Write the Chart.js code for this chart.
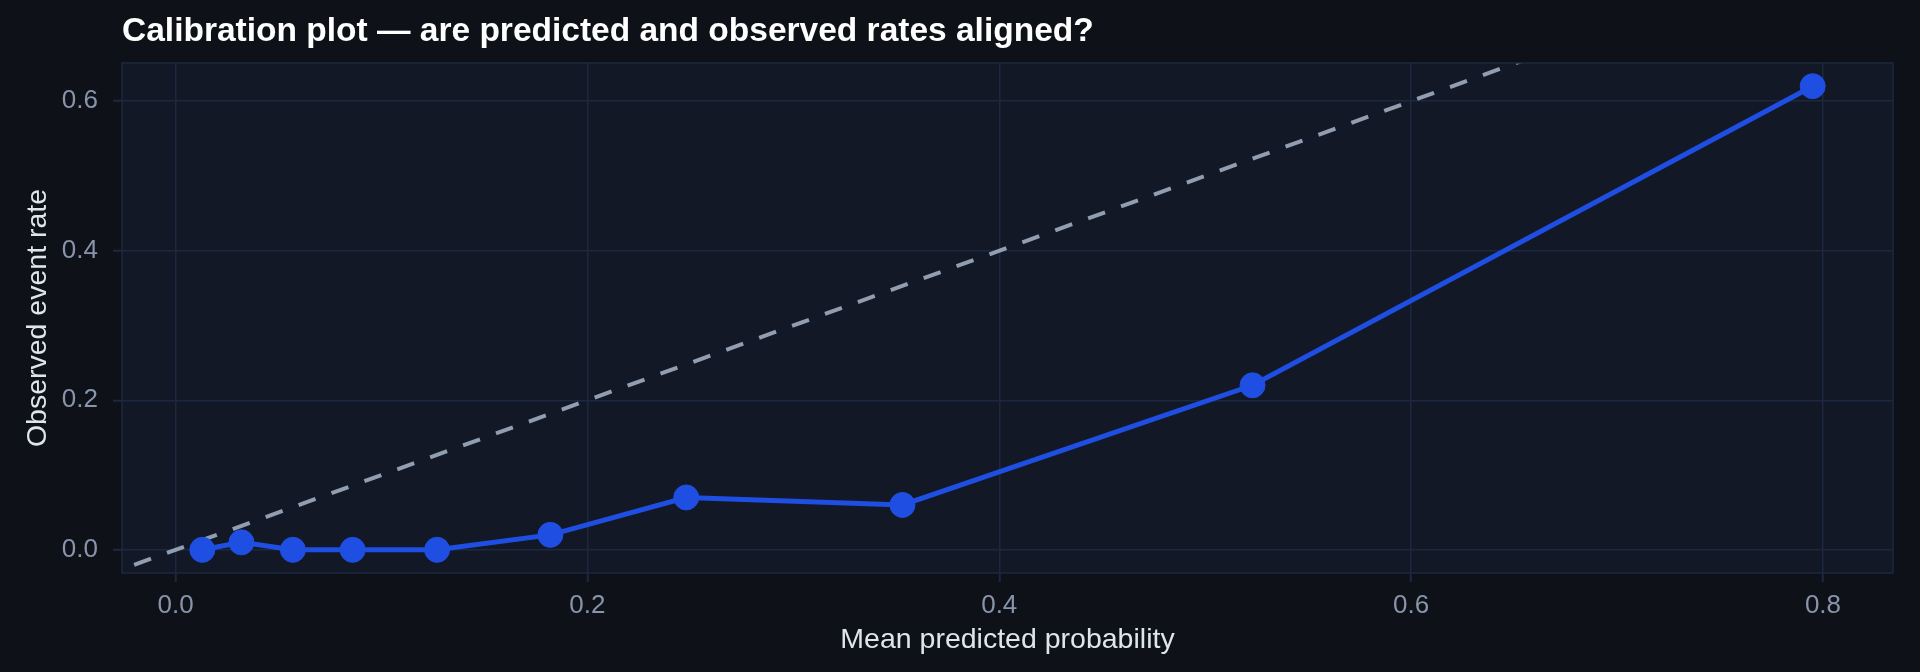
<!DOCTYPE html>
<html>
<head>
<meta charset="utf-8">
<script src="https://cdn.jsdelivr.net/npm/chart.js@4.4.1/dist/chart.umd.min.js"></script>
<style>
  html, body { margin: 0; padding: 0; background: #0e1118; }
  #wrap { width: 1920px; height: 672px; position: relative; }
</style>
</head>
<body>
<div id="wrap"><canvas id="calibrationChart"></canvas></div>
<script>
// Calibration bins
const predicted = [0.013, 0.032, 0.057, 0.086, 0.127, 0.182, 0.248, 0.353, 0.523, 0.795];
const observed = [0.00, 0.01, 0.00, 0.00, 0.00, 0.02, 0.07, 0.06, 0.22, 0.62];

// perfect calibration reference (y = x)
const diagonal = [-0.1, 1.0];

const xTicks = [0.0, 0.2, 0.4, 0.6, 0.8];
const yTicks = [0.0, 0.2, 0.4, 0.6];

const titleText = 'Calibration plot \u2014 are predicted and observed rates aligned?';
const FONT = '"Liberation Sans", Arial, Helvetica, sans-serif';
const gridColor = '#1c2840';

// plot background, frame and title
const framePlugin = {
    id: 'frame',
    beforeDraw(chart) {
        const { ctx, chartArea: a } = chart;
        ctx.save();
        ctx.fillStyle = '#121826';
        ctx.fillRect(a.left, a.top, a.right - a.left, a.bottom - a.top);
        ctx.restore();
    },
    afterDraw(chart) {
        const { ctx, chartArea: a } = chart;
        ctx.save();
        ctx.strokeStyle = gridColor;
        ctx.lineWidth = 1.5;
        ctx.strokeRect(a.left, a.top, a.right - a.left, a.bottom - a.top);
        ctx.fillStyle = '#ffffff';
        ctx.font = 'bold 33.5px ' + FONT;
        ctx.textBaseline = 'alphabetic';
        ctx.textAlign = 'left';
        ctx.fillText(titleText, a.left, 41);
        ctx.restore();
    }
};

const ctx = document.getElementById('calibrationChart').getContext('2d');

const calibrationChart = new Chart(ctx, {
    type: 'scatter',
    data: {
        datasets: [{
            label: 'Model',
            data: predicted.map((x, i) => ({ x: x, y: observed[i] })),
            showLine: true,
            borderColor: '#1f4ee3',
            backgroundColor: '#1f4ee3',
            borderWidth: 5,
            pointRadius: 12.5,
            pointBorderWidth: 1,
            pointBorderColor: '#1f4ee3',
            pointBackgroundColor: '#1f4ee3',
            tension: 0
        }, {
            label: 'Perfect calibration',
            data: diagonal.map(v => ({ x: v, y: v })),
            showLine: true,
            borderColor: 'rgba(160, 172, 192, 0.9)',
            borderWidth: 4,
            borderDash: [18, 17],
            pointRadius: 0,
            clip: 0
        }]
    },
    options: {
        responsive: true,
        maintainAspectRatio: false,
        animation: false,
        layout: { padding: { top: 63, right: 27, left: 0, bottom: 0 } },
        plugins: {
            legend: { display: false },
            title: { display: false },
            tooltip: { enabled: false }
        },
        scales: {
            x: {
                type: 'linear',
                min: -0.026,
                max: 0.834,
                afterBuildTicks: (scale) => { scale.ticks = xTicks.map(v => ({ value: v })); },
                afterFit: (scale) => { scale.height = 99; },
                grid: { color: gridColor, lineWidth: 1.5, tickLength: 9, tickColor: gridColor, tickWidth: 2 },
                border: { display: false },
                ticks: {
                    color: '#8794ab',
                    font: { family: FONT, size: 26 },
                    padding: 8,
                    maxRotation: 0,
                    callback: (v) => Number(v).toFixed(1)
                },
                title: {
                    display: true,
                    text: 'Mean predicted probability',
                    color: '#dfe5ee',
                    font: { family: FONT, size: 28.5 },
                    padding: { top: 0, bottom: 15 }
                }
            },
            y: {
                type: 'linear',
                min: -0.031,
                max: 0.651,
                afterBuildTicks: (scale) => { scale.ticks = yTicks.map(v => ({ value: v })); },
                afterFit: (scale) => { scale.width = 122; },
                grid: { color: gridColor, lineWidth: 1.5, tickLength: 9, tickColor: gridColor, tickWidth: 2 },
                border: { display: false },
                ticks: {
                    color: '#8794ab',
                    font: { family: FONT, size: 26 },
                    padding: 15,
                    callback: (v) => Number(v).toFixed(1)
                },
                title: {
                    display: true,
                    text: 'Observed event rate',
                    color: '#dfe5ee',
                    font: { family: FONT, size: 28.5 },
                    padding: { top: 21, bottom: 0 }
                }
            }
        }
    },
    plugins: [framePlugin]
});
</script>
</body>
</html>
